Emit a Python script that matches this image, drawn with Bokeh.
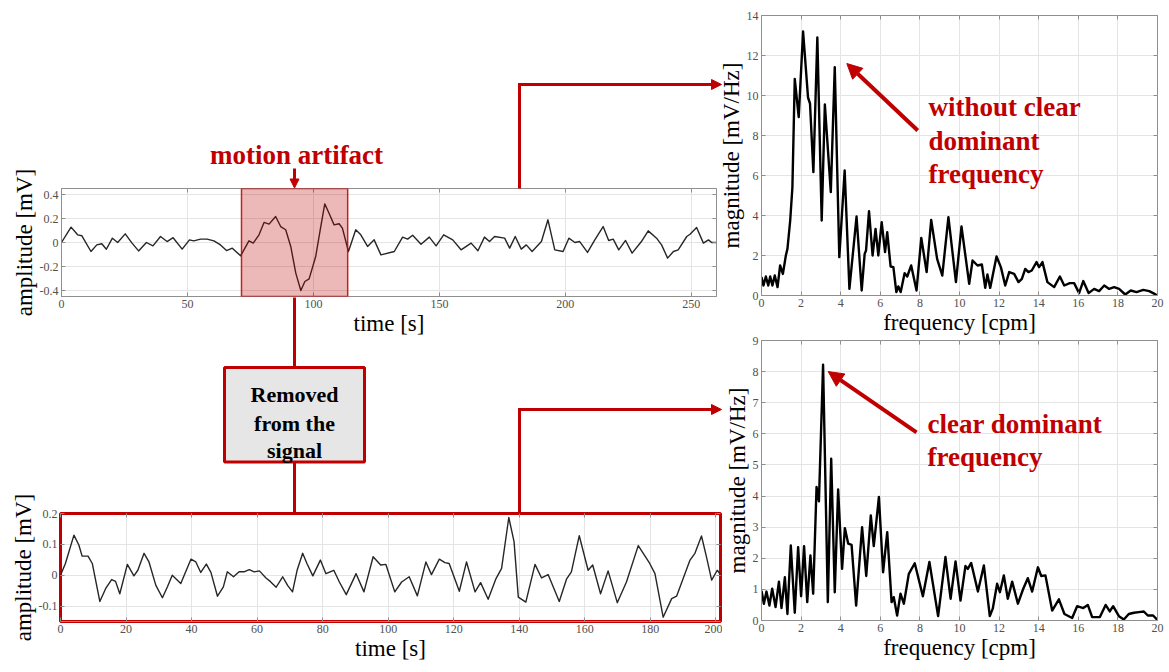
from bokeh.plotting import figure
from bokeh.models import (Range1d, FixedTicker, Label, Arrow, NormalHead, BoxAnnotation, LinearAxis,
                          GridBox)
from bokeh.embed import file_html
from bokeh.resources import INLINE

RED = "#C00000"
SERIF = "Liberation Serif"
GRID = "#e4e4e4"
FRAME = "#8f8f8f"
TICKTXT = "#505050"

# ---------------- data ----------------
raw_time = [0, 3.8, 6.4, 8.1, 11.7, 14, 16, 17.8, 20.2, 22.3, 25.3, 28, 30.6, 33.7, 36.3, 39.3, 41.9, 44.3,
            47.9, 50.8, 52.5, 55.2, 57.8, 60.5, 63.1, 65.5, 67.8, 71.1, 74.4, 76.1, 78.4, 80.4, 82.4, 85, 87,
            89, 91, 93, 95, 96.6, 98.3, 100.9, 102.7, 104.5, 106.2, 108.2, 110.2, 111.5, 113.9, 116.8, 118.8,
            121.5, 124.1, 126.8, 132.1, 135.4, 137.4, 139.4, 142.7, 146, 148.7, 151.7, 155.3, 158.6, 162.6,
            165.3, 167.9, 169.9, 171.9, 175.9, 177.9, 180.1, 182.5, 184.5, 186.8, 190.5, 193.1, 195.8, 199.1,
            201.4, 203.8, 205.7, 208.8, 211.7, 215, 217.2, 219, 221.2, 223.9, 226.5, 230.2, 232.9, 236.2,
            238.2, 240.6, 242.9, 244.8, 248.2, 249.5, 252.1, 254.8, 256.8, 258.1, 260.0]
raw_amp = [0, 0.128, 0.064, 0.056, -0.075, -0.02, -0.01, -0.056, 0.036, 0.0, 0.072, -0.005, -0.07, 0.0,
           -0.028, 0.05, 0.008, 0.04, -0.055, 0.022, 0.014, 0.028, 0.028, 0.014, -0.02, -0.067, -0.047, -0.111,
           0.014, -0.005, 0.064, 0.167, 0.153, 0.217, 0.133, 0.106, -0.033, -0.255, -0.40, -0.325, -0.303,
           -0.117, 0.106, 0.322, 0.244, 0.147, 0.156, 0.12, -0.075, 0.106, 0.064, -0.033, 0.022, -0.103,
           -0.075, 0.045, 0.028, 0.061, -0.014, 0.045, -0.028, 0.064, 0.022, -0.061, -0.005, -0.069, 0.045,
           0.008, 0.05, 0.036, -0.047, 0.05, -0.055, -0.02, -0.075, 0.008, 0.189, -0.061, -0.075, 0.036, 0,
           0.008, -0.083, 0.022, 0.133, 0.017, 0.028, -0.061, 0.017, -0.089, 0.008, 0.097, 0.036, -0.02,
           -0.13, -0.075, -0.061, 0.05, 0.069, 0.125, -0.005, 0.022, 0, 0]

clean_time = [0, 1.5, 4.1, 5.6, 6.6, 8.4, 9.7, 12.0, 13.8, 15.6, 16.8, 18.1, 20.4, 22.4, 23.6, 25.5, 27, 29.1,
              31.1, 32.6, 34.1, 36.7, 39.8, 41.3, 42.8, 44.5, 45.9, 47.9, 49.7, 50.9, 52.8, 54.5, 56, 57.6,
              59.1, 60.7, 62.7, 64, 65.8, 67.8, 69.3, 70.8, 72.2, 73.9, 75.2, 77, 79.3, 81, 83.4, 85.1, 87.2,
              90.2, 92.6, 95.4, 97.7, 99.3, 102, 104.1, 106.4, 108.9, 111.5, 113.2, 115.6, 117.3, 118.6, 121.7,
              123.9, 126.5, 128.2, 130.5, 132.9, 134.6, 136.8, 138.4, 139.7, 142, 144.8, 146.8, 148.8, 152.2,
              154.4, 155.9, 158.3, 161, 162.4, 164.8, 167.1, 169.9, 172.7, 176.3, 179.8, 181.4, 183.9, 186.5,
              188, 192.1, 193.6, 195.6, 197.1, 198.7, 200.4, 201.4]
clean_amp = [0.0, 0.038, 0.13, 0.098, 0.062, 0.062, 0.038, -0.085, -0.043, -0.014, -0.02, -0.06, 0.035, -0.002,
             0.016, 0.071, 0.043, -0.033, -0.073, -0.038, 0, -0.027, 0.052, 0.043, 0.009, 0.036, 0.009, -0.068,
             -0.038, 0.011, -0.005, 0.011, 0.011, 0.018, 0.011, 0.014, -0.009, -0.02, -0.039, -0.005, -0.033,
             -0.054, 0.016, 0.071, 0.038, -0.002, 0.049, 0.005, 0.016, -0.022, -0.063, 0.005, -0.054, 0.06,
             0.033, 0.035, -0.054, -0.022, -0.005, -0.067, 0.043, 0.002, 0.052, 0.041, 0.038, -0.052, 0.043,
             -0.054, -0.024, -0.078, -0.011, 0.022, 0.187, 0.109, -0.071, -0.087, 0.035, -0.009, 0.002, -0.085,
             -0.013, 0.011, 0.128, 0.016, 0.033, -0.06, 0.014, -0.089, -0.022, 0.096, 0.038, 0.005, -0.136,
             -0.076, -0.068, 0.049, 0.071, 0.127, 0.06, -0.016, 0.016, 0.002]

freq_raw = [0, 0.1, 0.22, 0.34, 0.44, 0.55, 0.67, 0.81, 0.94, 1.08, 1.23, 1.31, 1.45, 1.56, 1.68, 1.88, 2.1,
            2.35, 2.45, 2.62, 2.82, 3.04, 3.2, 3.5, 3.7, 3.93, 4.2, 4.44, 4.8, 5.06, 5.21, 5.28, 5.43, 5.61,
            5.76, 5.9, 6.07, 6.24, 6.35, 6.52, 6.66, 6.81, 6.91, 7.03, 7.23, 7.36, 7.56, 7.83, 8.07, 8.34, 8.57,
            8.87, 9.13, 9.44, 9.82, 10.1, 10.49, 10.66, 10.91, 11.13, 11.3, 11.41, 11.55, 11.87, 12.09, 12.31,
            12.51, 12.76, 12.98, 13.15, 13.32, 13.48, 13.65, 13.89, 14.02, 14.19, 14.44, 14.78, 15.07, 15.29,
            15.57, 15.79, 16.04, 16.25, 16.52, 16.8, 17.05, 17.31, 17.56, 17.81, 18.06, 18.37, 18.65, 18.94,
            19.28, 19.58, 19.78, 20]
mag_raw = [0.92, 0.5, 0.95, 0.5, 0.95, 0.5, 1.0, 0.42, 1.5, 1.08, 2.0, 2.33, 3.75, 5.4, 10.83, 8.92, 13.2, 9.9,
           9.6, 6.17, 12.9, 3.75, 9.55, 5.17, 11.42, 1.92, 6.25, 0.33, 3.95, 0.25, 2.08, 2.25, 4.22, 2.0, 3.33,
           2.0, 3.67, 2.17, 3.17, 1.45, 1.42, 0.17, 0.45, 0.17, 1.12, 0.95, 1.5, 0.25, 2.88, 1.17, 3.78, 1.83,
           1.0, 3.92, 0.67, 3.45, 0.58, 1.75, 1.5, 1.55, 0.38, 1.05, 0.38, 1.95, 1.42, 0.5, 1.17, 1.08, 0.67,
           0.83, 1.33, 1.17, 1.25, 1.67, 1.42, 1.67, 0.67, 0.42, 0.95, 0.5, 0.62, 0.62, 0.12, 0.72, 0.12, 0.33,
           0.22, 0.5, 0.33, 0.42, 0.33, 0.05, 0.25, 0.17, 0.28, 0.22, 0.12, 0.0]

freq_clean = [0, 0.12, 0.25, 0.4, 0.54, 0.71, 0.88, 1.01, 1.18, 1.31, 1.48, 1.68, 1.85, 2.0, 2.15, 2.31, 2.47,
              2.61, 2.78, 2.9, 3.11, 3.35, 3.52, 3.7, 3.87, 4.07, 4.21, 4.38, 4.55, 4.78, 5.08, 5.29, 5.52,
              5.67, 5.93, 6.14, 6.35, 6.57, 6.68, 6.85, 7.02, 7.19, 7.44, 7.74, 8.15, 8.48, 8.92, 9.29, 9.55,
              9.8, 10.05, 10.3, 10.42, 10.59, 10.93, 11.23, 11.53, 11.68, 11.9, 12.04, 12.24, 12.44, 12.66,
              12.95, 13.22, 13.45, 13.67, 13.96, 14.13, 14.34, 14.68, 15.02, 15.3, 15.69, 15.94, 16.25, 16.48,
              16.7, 17.09, 17.38, 17.59, 17.76, 18.05, 18.3, 18.55, 18.81, 19.06, 19.31, 19.51, 19.78, 19.98]
mag_clean = [0.96, 0.54, 0.93, 0.48, 1.02, 0.43, 1.25, 0.4, 1.39, 0.21, 2.41, 0.25, 2.36, 0.78, 2.39, 0.59,
             2.09, 0.86, 4.29, 3.83, 8.22, 0.59, 5.2, 0.91, 4.21, 1.66, 2.97, 2.47, 2.43, 0.48, 3.0, 1.43, 3.38,
             2.39, 3.97, 1.55, 2.84, 0.59, 0.75, 0.16, 0.86, 0.54, 1.5, 1.84, 0.78, 1.88, 0.14, 2.04, 0.7, 1.9,
             0.64, 1.75, 1.66, 1.85, 0.93, 1.77, 0.14, 0.38, 1.18, 0.91, 1.45, 0.7, 1.25, 0.54, 1.02, 1.36, 0.93,
             1.71, 1.43, 1.45, 0.32, 0.68, 0.21, 0.08, 0.46, 0.4, 0.5, 0.11, 0.11, 0.5, 0.29, 0.46, 0.14, 0.03,
             0.21, 0.25, 0.27, 0.29, 0.16, 0.16, 0.03]

raw_xticks = [0, 50, 100, 150, 200, 250]
raw_yticks = [-0.4, -0.2, 0, 0.2, 0.4]
raw_ytick_labels = ["-0.4", "-0.2", "0", "0.2", "0.4"]
clean_xticks = [0, 20, 40, 60, 80, 100, 120, 140, 160, 180, 200]
clean_yticks = [-0.1, 0, 0.1, 0.2]
clean_ytick_labels = ["-0.1", "0", "0.1", "0.2"]
freq_ticks = [0, 2, 4, 6, 8, 10, 12, 14, 16, 18, 20]
mag_raw_ticks = [0, 2, 4, 6, 8, 10, 12, 14]
mag_clean_ticks = [0, 1, 2, 3, 4, 5, 6, 7, 8, 9]

artifact_start, artifact_end = 71.45, 113.6   # seconds, removed segment


def panel(w, h, xr, yr, borders, xticks, yticks, xlabel, ylabel, ylabels=None, clear_border=False):
    l, r, t, b = borders
    p = figure(width=w, height=h, x_range=Range1d(*xr), y_range=Range1d(*yr),
               output_backend="svg", toolbar_location=None, frame_align=False,
               min_border_left=l, min_border_right=r, min_border_top=t, min_border_bottom=b)
    if clear_border:
        p.border_fill_alpha = 0
    p.xaxis.ticker = FixedTicker(ticks=xticks)
    p.yaxis.ticker = FixedTicker(ticks=yticks)
    if ylabels:
        p.yaxis.major_label_overrides = dict(zip(yticks, ylabels))
    p.xaxis.axis_label = xlabel
    p.yaxis.axis_label = ylabel
    for ax in (p.xaxis[0], p.yaxis[0]):
        ax.major_label_text_font = SERIF
        ax.major_label_text_font_size = "12px"
        ax.major_label_text_color = TICKTXT
        ax.axis_label_text_font = SERIF
        ax.axis_label_text_font_size = "23px"
        ax.axis_label_text_font_style = "normal"
        ax.axis_label_text_color = "black"
        ax.major_tick_in = 4
        ax.major_tick_out = 0
        ax.minor_tick_line_color = None
        ax.axis_line_color = FRAME
        ax.major_tick_line_color = FRAME
        ax.major_label_standoff = 3
        ax.axis_label_standoff = 0
    p.grid.grid_line_color = GRID
    p.outline_line_color = FRAME
    p.outline_line_width = 1
    for loc, tk in (("above", xticks), ("right", yticks)):
        ax = LinearAxis(ticker=FixedTicker(ticks=tk), major_label_text_font_size="0px",
                        major_label_text_color=None, major_label_standoff=0,
                        major_tick_in=4, major_tick_out=0,
                        minor_tick_line_color=None, axis_line_color=None,
                        major_tick_line_color=FRAME)
        p.add_layout(ax, loc)
    return p


def seg(p, x0, y0, x1, y1, width=3, head=None):
    p.add_layout(Arrow(x_start=x0, y_start=y0, x_end=x1, y_end=y1, line_color=RED, line_width=width,
                       end=(NormalHead(size=head, fill_color=RED, line_color=RED, line_width=1) if head else None)))


def text(p, x, y, s, size, color=RED, align="left"):
    p.add_layout(Label(x=x, y=y, text=s, text_font=SERIF, text_font_size=size, text_font_style="bold",
                       text_color=color, text_align=align, text_baseline="alphabetic"))


# ---------------- top-left: raw signal with motion artifact ----------------
pa = panel(722, 352, (0, 260), (-0.45, 0.45), (61, 6, 188, 56), raw_xticks, raw_yticks,
           "time [s]", "amplitude [mV]", raw_ytick_labels)
pa.line(raw_time, raw_amp, line_color="#262626", line_width=1.4, line_join="round")
pa.add_layout(BoxAnnotation(left=artifact_start, right=artifact_end, fill_color=RED, fill_alpha=0.28,
                            line_color=RED, line_alpha=0.85, line_width=1.5))

# ---------------- bottom-left: cleaned signal ----------------
pb = panel(722, 320, (0, 201.4), (-0.15, 0.2), (60, 2, 161, 51), clean_xticks, clean_yticks,
           "time [s]", "amplitude [mV]", clean_ytick_labels)
pb.line(clean_time, clean_amp, line_color="#262626", line_width=1.4, line_join="round")
pb.outline_line_color = RED
pb.outline_line_width = 3
pb.xaxis[0].axis_line_color = None
pb.yaxis[0].axis_line_color = None

# ---------------- top-right: spectrum with artifact ----------------
pc = panel(455, 340, (0, 20), (0, 14), (47, 12, 15, 45), freq_ticks, mag_raw_ticks,
           "frequency [cpm]", "magnitude [mV/Hz]", clear_border=True)
pc.line(freq_raw, mag_raw, line_color="black", line_width=2.4, line_join="round")
seg(pc, 7.89, 8.25, 4.31, 11.6, width=4, head=15)
text(pc, 8.43, 9.45, "without  clear", "27px")
text(pc, 8.43, 7.75, "dominant", "27px")
text(pc, 8.43, 6.1, "frequency", "27px")

# ---------------- bottom-right: spectrum without artifact ----------------
pd = panel(455, 340, (0, 20), (0, 9), (47, 12, 8, 52), freq_ticks, mag_clean_ticks,
           "frequency [cpm]", "magnitude [mV/Hz]", clear_border=True)
pd.line(freq_clean, mag_clean, line_color="black", line_width=2.4, line_join="round")
seg(pd, 7.83, 6.05, 3.37, 8.0, width=4, head=15)
text(pd, 8.38, 6.33, "clear dominant", "27px")
text(pd, 8.38, 5.24, "frequency", "27px")

# ---------------- overlay (page pixels) for connectors and call-outs ----------------
ov = figure(width=1169, height=672, x_range=Range1d(0, 1169), y_range=Range1d(672, 0),
            x_axis_type=None, y_axis_type=None, min_border=0, output_backend="svg",
            toolbar_location=None, outline_line_color=None, frame_align=False)
ov.background_fill_alpha = 0
ov.border_fill_alpha = 0
ov.grid.visible = False
text(ov, 296, 154, "motion artifact", "27px", align="center")
seg(ov, 294, 168, 294, 187.5, width=3, head=9)
seg(ov, 519, 188, 519, 82.5, width=3)
seg(ov, 519, 84, 721, 84, width=3, head=10)
seg(ov, 294, 297, 294, 368, width=3)
ov.add_layout(BoxAnnotation(left=224, right=364, top=367, bottom=461.5, fill_color="#e6e6e6", fill_alpha=1,
                            line_color=RED, line_alpha=1, line_width=3))
text(ov, 294, 394, "Removed", "22px", color="black", align="center")
text(ov, 294, 423, "from the", "22px", color="black", align="center")
text(ov, 294, 450, "signal", "22px", color="black", align="center")
seg(ov, 294, 461, 294, 513, width=3)
seg(ov, 519, 513, 519, 407.5, width=3)
seg(ov, 519, 409, 721, 409, width=3, head=10)

layout = GridBox(
    children=[(pa, 0, 0, 3, 2), (pb, 3, 0, 1, 2), (pc, 0, 1, 2, 2), (pd, 1, 1, 3, 2), (ov, 0, 0, 4, 3)],
    rows=["332px", "8px", "12px", "320px"],
    cols=["714px", "8px", "447px"],
    spacing=0,
)
open("out.html", "w").write(file_html(layout, INLINE))
